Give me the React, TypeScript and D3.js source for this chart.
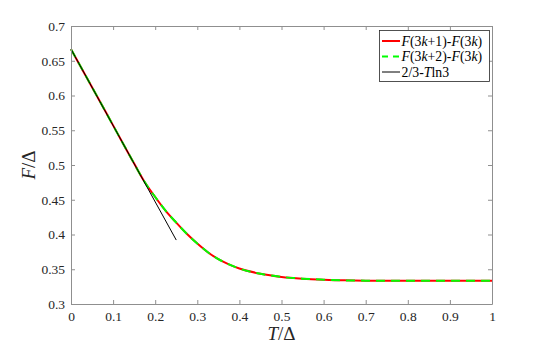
import React, { useRef, useEffect } from "react";
import * as d3 from "d3";

// values
const tValues = [0, 0.05, 0.1, 0.15, 0.175, 0.2, 0.225, 0.25, 0.275, 0.3, 0.325, 0.35, 0.375, 0.4, 0.45, 0.5, 0.55, 0.6, 0.65, 0.7, 0.8, 0.9, 1.0];
const fValues = [0.6667, 0.612, 0.557, 0.502, 0.4755, 0.454, 0.434, 0.417, 0.401, 0.387, 0.3745, 0.3645, 0.357, 0.351, 0.3435, 0.339, 0.3365, 0.335, 0.334, 0.3336, 0.3334, 0.3334, 0.3334];
// 2/3 - T ln3, drawn only from its two end points
const lineT = [0, 0.25];
const lineF = [0.6667, 0.392];

const xTicks = [0, 0.1, 0.2, 0.3, 0.4, 0.5, 0.6, 0.7, 0.8, 0.9, 1];
const yTicks = [0.3, 0.35, 0.4, 0.45, 0.5, 0.55, 0.6, 0.65, 0.7];

const App = () => {
  const svgRef = useRef<SVGSVGElement>(null);
  const width = 545;
  const height = 347;

  useEffect(() => {
    const svg = d3.select(svgRef.current);
    svg.selectAll("*").remove();
    const margin = { top: 26, right: 53, bottom: 43, left: 71 };
    const axisColor = "#8f8f8f";
    const textColor = "#262626";
    const font = "'Liberation Serif', 'DejaVu Serif', 'Times New Roman', serif";

    const x = d3.scaleLinear().domain([0, 1]).range([margin.left, width - margin.right]);
    const y = d3.scaleLinear().domain([0.3, 0.7]).range([height - margin.bottom, margin.top]);

    const curve = tValues.map((t, i) => ({ t, f: fValues[i] }));
    const lin = lineT.map((t, i) => ({ t, f: lineF[i] }));

    const line = d3
      .line<{ t: number; f: number }>()
      .x((d) => x(d.t))
      .y((d) => y(d.f))
      .curve(d3.curveMonotoneX);

    svg.append("rect").attr("width", width).attr("height", height).attr("fill", "#fff");

    // curves
    svg.append("path").datum(curve).attr("fill", "none").attr("stroke", "#ff0000").attr("stroke-width", 2).attr("d", line);
    svg
      .append("path")
      .datum(curve)
      .attr("fill", "none")
      .attr("stroke", "#00ff00")
      .attr("stroke-width", 2)
      .attr("stroke-dasharray", "9,6")
      .attr("d", line);
    svg
      .append("path")
      .datum(lin)
      .attr("fill", "none")
      .attr("stroke", "#000")
      .attr("stroke-width", 1)
      .attr("d", d3.line<{ t: number; f: number }>().x((d) => x(d.t)).y((d) => y(d.f)));

    // axes (box with inward ticks)
    const tk = 4;
    const bottom = svg.append("g").attr("transform", `translate(0,${height - margin.bottom})`)
      .call(d3.axisBottom(x).tickValues(xTicks).tickSizeInner(-tk).tickSizeOuter(0).tickPadding(7).tickFormat((d) => d3.format("")(+d)));
    const left = svg.append("g").attr("transform", `translate(${margin.left},0)`)
      .call(d3.axisLeft(y).tickValues(yTicks).tickSizeInner(-tk).tickSizeOuter(0).tickPadding(6).tickFormat((d) => d3.format("")(+d)));
    const top = svg.append("g").attr("transform", `translate(0,${margin.top})`)
      .call(d3.axisTop(x).tickValues(xTicks).tickSizeInner(-tk).tickSizeOuter(0).tickFormat(() => ""));
    const right = svg.append("g").attr("transform", `translate(${width - margin.right},0)`)
      .call(d3.axisRight(y).tickValues(yTicks).tickSizeInner(-tk).tickSizeOuter(0).tickFormat(() => ""));

    [bottom, left, top, right].forEach((g) => {
      g.attr("font-family", null).attr("font-size", null);
      g.select(".domain").attr("stroke", axisColor);
      g.selectAll(".tick line").attr("stroke", axisColor);
      g.selectAll(".tick text").attr("fill", textColor).style("font-family", font).style("font-size", "13.5px");
    });

    // axis titles
    const xt = svg.append("text")
      .attr("x", x(0.5))
      .attr("y", 340)
      .attr("text-anchor", "middle")
      .attr("fill", textColor)
      .style("font-family", font)
      .style("font-size", "19px");
    xt.append("tspan").attr("font-style", "italic").text("T");
    xt.append("tspan").text("/Δ");

    const yt = svg.append("text")
      .attr("transform", `translate(35,${y(0.5)}) rotate(-90)`)
      .attr("text-anchor", "middle")
      .attr("fill", textColor)
      .style("font-family", font)
      .style("font-size", "19px");
    yt.append("tspan").attr("font-style", "italic").text("F");
    yt.append("tspan").text("/Δ");

    // legend
    const lg = svg.append("g");
    lg.append("rect")
      .attr("x", 379.5)
      .attr("y", 30.5)
      .attr("width", 110)
      .attr("height", 51)
      .attr("fill", "#fff")
      .attr("stroke", textColor)
      .attr("stroke-width", 0.8);

    const entries = [
      { parts: [["F", true], ["(3", false], ["k", true], ["+1)-", false], ["F", true], ["(3", false], ["k", true], [")", false]], color: "#ff0000", dash: null, w: 2 },
      { parts: [["F", true], ["(3", false], ["k", true], ["+2)-", false], ["F", true], ["(3", false], ["k", true], [")", false]], color: "#00ff00", dash: "6,5", w: 2 },
      { parts: [["2/3-", false], ["T", true], ["ln3", false]], color: "#000", dash: null, w: 1 },
    ];
    entries.forEach((e, i) => {
      const yy = 41 + i * 15.5;
      lg.append("line")
        .attr("x1", 382)
        .attr("x2", 400)
        .attr("y1", yy)
        .attr("y2", yy)
        .attr("stroke", e.color)
        .attr("stroke-width", e.w)
        .attr("stroke-dasharray", e.dash);
      const t = lg.append("text")
        .attr("x", 401.5)
        .attr("y", yy + 4.5)
        .attr("fill", "#000")
        .style("font-family", font)
        .style("font-size", "13.8px");
      e.parts.forEach(([s, it]) => {
        t.append("tspan").attr("font-style", it ? "italic" : "normal").text(s as string);
      });
    });
  }, []);

  return (
    <div style={{ position: "absolute", left: 0, top: 0 }}>
      <svg ref={svgRef} width={width} height={height} style={{ display: "block" }} />
    </div>
  );
};

export default App;
